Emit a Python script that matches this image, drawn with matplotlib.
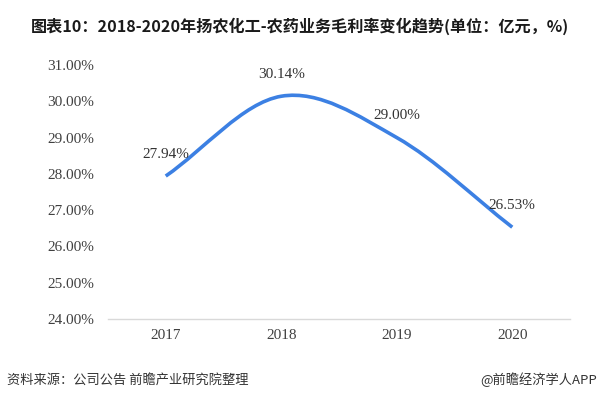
import matplotlib
matplotlib.use("Agg")
import matplotlib.pyplot as plt
from matplotlib.path import Path
from matplotlib.patches import PathPatch
import numpy as np

# data
years = ["2017", "2018", "2019", "2020"]
margin = [27.94, 30.14, 29.00, 26.53]
yticks = [24, 25, 26, 27, 28, 29, 30, 31]

title = "图表10：2018-2020年扬农化工-农药业务毛利率变化趋势(单位：亿元，%)"
source = "资料来源：公司公告 前瞻产业研究院整理"
credit = "@前瞻经济学人APP"

cjk = ["Noto Sans CJK SC", "DejaVu Sans"]
serif = "Liberation Serif"
blue = "#3c80e3"

fig = plt.figure(figsize=(6, 3.99), dpi=100)
ax = fig.add_axes([0.18, 0.2005, 0.77, 0.6365])

x = np.arange(len(years))
y = np.array(margin)

# smooth line: cubic bezier segments with catmull-rom tangents
pts = np.column_stack([x, y])
n = len(pts)
tang = []
for i in range(n):
    if i == 0:
        tang.append(pts[1] - pts[0])
    elif i == n - 1:
        tang.append(pts[-1] - pts[-2])
    else:
        tang.append((pts[i + 1] - pts[i - 1]) / 2)
verts = [tuple(pts[0])]
codes = [Path.MOVETO]
for i in range(n - 1):
    verts += [tuple(pts[i] + tang[i] / 3), tuple(pts[i + 1] - tang[i + 1] / 3),
              tuple(pts[i + 1])]
    codes += [Path.CURVE4] * 3
ax.add_patch(PathPatch(Path(verts, codes), fill=False, edgecolor=blue,
                       lw=2.6, capstyle="butt", zorder=3))

for xi, yi in zip(x, y):
    ax.annotate("%.2f%%" % yi, (xi, yi), xytext=(0, 11), textcoords="offset points",
                ha="center", va="bottom", fontsize=11, family=serif, color="#333333",
                zorder=4)

ax.set_xlim(-0.5, len(years) - 0.5)
ax.set_ylim(24, 31)
ax.set_xticks(x)
ax.set_xticklabels(years)
ax.set_yticks(yticks)
ax.set_yticklabels(["%.2f%%" % v for v in yticks])
for lab in ax.get_xticklabels() + ax.get_yticklabels():
    lab.set_family(serif)
    lab.set_fontsize(11)
    lab.set_color("#404040")
ax.tick_params(axis="both", length=0)
ax.tick_params(axis="y", pad=10)
ax.tick_params(axis="x", pad=7)
for s in ["top", "right", "left"]:
    ax.spines[s].set_visible(False)
ax.spines["bottom"].set_color("#d9d9d9")
ax.spines["bottom"].set_linewidth(1)

fig.text(0.052, 0.935, title, family=cjk, fontsize=11.6, fontweight="bold",
         color="#1a1a1a", va="center", ha="left")
fig.text(0.012, 0.048, source, family=cjk, fontsize=9.5, color="#333333",
         va="center", ha="left")
fig.text(0.995, 0.048, credit, family=cjk, fontsize=9.5, color="#333333",
         va="center", ha="right")

fig.savefig("out.png", dpi=100)
